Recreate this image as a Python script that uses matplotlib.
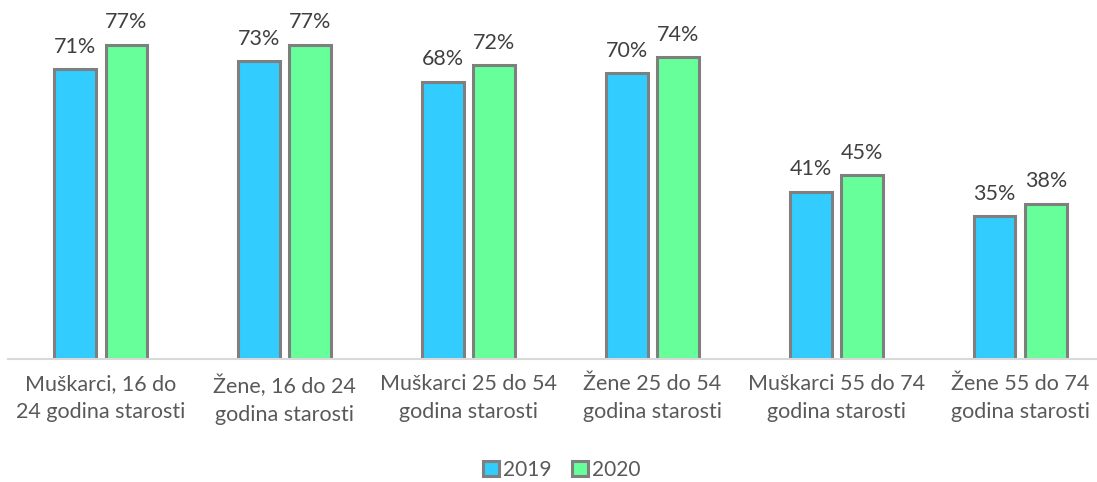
import matplotlib.pyplot as plt
import numpy as np

kategorije = ["Muškarci, 16 do\n24 godina starosti", "Žene, 16 do 24\ngodina starosti",
              "Muškarci 25 do 54\ngodina starosti", "Žene 25 do 54\ngodina starosti",
              "Muškarci 55 do 74\ngodina starosti", "Žene 55 do 74\ngodina starosti"]
g2019 = [0.71, 0.73, 0.68, 0.70, 0.41, 0.35]
g2020 = [0.77, 0.77, 0.72, 0.74, 0.45, 0.38]

plt.rcParams['font.family'] = ['Lato', 'DejaVu Sans']
siva = '#595959'

fig = plt.figure(figsize=(10.97, 4.82), dpi=100)
ax = fig.add_axes([8/1097, 1 - 359/482, 1089/1097, 359/482])

x = np.arange(len(kategorije))
w = 0.228
off = 0.141
b1 = ax.bar(x - off, g2019, w, color='#33CCFF', edgecolor='#7F7F7F', linewidth=2.2, label='2019')
b2 = ax.bar(x + off, g2020, w, color='#66FF99', edgecolor='#7F7F7F', linewidth=2.2, label='2020')

for bars, vals in [(b1, g2019), (b2, g2020)]:
    for b, v in zip(bars, vals):
        ax.annotate(f"{round(v*100)}%", (b.get_x() + b.get_width()/2, v),
                    xytext=(0, 9), textcoords='offset points', ha='center', va='bottom',
                    fontsize=15.5, color='#404040')

ax.set_xlim(-0.503, 5.416)
ax.set_ylim(0, 0.88)
ax.set_xticks(x)
ax.set_xticklabels(kategorije, fontsize=15.5, color=siva, linespacing=1.5)
ax.tick_params(axis='x', length=0, pad=11)
ax.set_yticks([])
for s in ['top', 'right', 'left']:
    ax.spines[s].set_visible(False)
ax.spines['bottom'].set_color('#D9D9D9')
ax.spines['bottom'].set_linewidth(1.5)

leg = fig.legend(loc='center', bbox_to_anchor=(562/1097, 1 - 470/482), ncol=2, frameon=False,
                 fontsize=15, handlelength=0.75, handleheight=0.75, handletextpad=0.2,
                 columnspacing=1.0)
for t in leg.get_texts():
    t.set_color(siva)

fig.savefig('out.png', dpi=100)
